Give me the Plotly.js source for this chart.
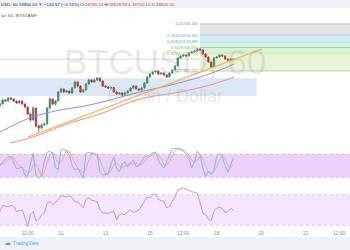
<!DOCTYPE html>
<html><head><meta charset="utf-8">
<script src="https://cdn.plot.ly/plotly-3.0.1.min.js"></script>
<style>html,body{margin:0;padding:0;background:#fff}#c{width:350px;height:250px}</style>
</head><body><div id="c"></div>
<script>
// ---- data (3-hour candles) ----
const candleStart = '2017-12-08T06:00:00';
const candleStepHours = 3;
const openP = [15150,15285,15598,15520,15755,15676,15520,15363,15520,15285,
 15050,14502,14033,14972,13563,13407,13641,13720,14972,15676,
 15285,15520,16224,16459,16224,16302,16146,16537,17007,16694,
 16224,16381,16850,17164,17007,17164,17320,17085,16694,16615,
 16537,16580,16224,16068,16146,15990,16146,16302,16537,16694,
 16459,16381,16537,16929,17398,17633,17789,17868,17633,17711,
 17555,17398,17711,17946,18259,18885,19042,19120,19042,19276,
 19355,19433,19590,19511,19198,18963,18572,18181,18885,18963,
 19120,19042,18807,18729,18786];
const closeP = [15285,15598,15520,15755,15676,15520,15363,15520,15285,15050,
 14502,14033,14972,13563,13407,13641,13720,14972,15676,15285,
 15520,16224,16459,16224,16302,16146,16537,17007,16694,16224,
 16381,16850,17164,17007,17164,17320,17085,16694,16615,16537,
 16580,16224,16068,16146,15990,16146,16302,16537,16694,16459,
 16381,16537,16929,17398,17633,17789,17868,17633,17711,17555,
 17398,17711,17946,18259,18885,19042,19120,19042,19276,19355,
 19433,19590,19511,19198,18963,18572,18181,18885,18963,19120,
 19042,18807,18729,18807,18800];
const highP = [15420,15700,15680,15840,15810,15720,15560,15610,15560,15330,
 15100,14600,15100,15000,13700,13760,13850,15050,15830,15720,
 15600,16300,16560,16500,16400,16350,16620,17100,17050,16740,
 16460,16930,17240,17250,17260,17400,17360,17120,16760,16680,
 16640,16620,16290,16230,16200,16220,16380,16610,16760,16730,
 16520,16600,17000,17470,17720,17870,17950,17900,17800,17760,
 17600,17780,18020,18340,18960,19120,19200,19180,19350,19430,
 19510,19700,19668,19560,19250,19010,18620,18950,19040,19200,
 19160,19080,18860,18880,18829];
const lowP = [15080,15240,15430,15480,15600,15450,15300,15320,15200,14950,
 14420,13900,13980,13450,13093,13330,13560,13690,14900,15200,
 15150,15480,16150,16150,16180,16080,16100,16500,16620,16150,
 16180,16330,16800,16950,16960,17100,17020,16620,16540,16460,
 16450,16150,15990,16000,15920,15940,16100,16260,16480,16400,
 16300,16330,16500,16880,17350,17580,17740,17560,17590,17480,
 17320,17360,17680,17900,18220,18830,18980,18960,19000,19220,
 19300,19380,19440,19120,18900,18500,18103,18140,18820,18920,
 18980,18740,18650,18690,18700];
const stochK = [52,60,66,74,75,60,42,44,47,26,
 21,55,83,25,18,24,62,85,88,83,
 45,40,91,94,88,78,50,39,44,30,
 18,83,85,83,80,78,34,26,28,31,
 55,73,44,34,55,60,47,58,65,48,
 50,62,73,75,78,84,86,65,52,44,
 60,78,94,96,96,92,88,80,70,45,
 60,88,80,45,22,36,28,40,75,82,
 73,50,34,52,72];
const stochD = [50,55,59,67,72,70,59,49,44,39,
 31,34,53,54,42,22,35,57,78,85,
 72,56,59,75,91,87,72,56,44,38,
 31,44,62,84,83,80,64,46,29,28,
 38,53,57,50,44,50,54,55,57,57,
 54,53,62,70,75,79,83,78,68,54,
 52,61,77,89,95,95,92,87,79,65,
 58,64,76,71,49,34,29,35,48,66,
 77,68,52,45,53];
const rsi = [48,56,55,54,56,55,48,49,50,41,
 28,44,48,36,38,43,46,59,61,57,
 60,63,69,68,67,69,66,61,60,57,
 53,64,66,63,62,61,50,46,46,46,
 47,48,37,44,45,44,48,50,47,48,
 50,55,61,67,66,70,71,64,62,61,
 53,55,61,67,76,78,79,77,75,74,
 73,72,60,46,44,38,36,48,52,54,
 52,47,48,52,50];
// moving averages (sampled points)
const maBlueT = ['2017-12-08 06:00','2017-12-09 14:30','2017-12-10 17:30','2017-12-12 01:50','2017-12-13 04:50','2017-12-14 13:00','2017-12-15 18:00','2017-12-17 06:00','2017-12-18 03:30','2017-12-18 19:00'];
const maBlueV = [13093,14189,14737,15128,15598,16224,16694,17398,17946,18416];
const maRedT = ['2017-12-08 17:00','2017-12-09 17:45','2017-12-11 06:30','2017-12-12 18:00','2017-12-14 13:00','2017-12-16 08:20','2017-12-17 16:45','2017-12-18 19:00'];
const maRedV = [12232,12702,13720,14502,15676,16224,16772,17398];
// trend line
const trendT = ['2017-12-09 12:20','2017-12-20 00:50'];
const trendV = [12702,19590];
// fibonacci retracement
const fibStart = '2017-12-17 06:00';
const fibRatios = ['1','0.764','0.618','0.5','0.382','0'];
const fibPrices = [21546.33,20676.66,20139.89,19706.05,19272.95,17867.72];
// resistance zone
const zoneStart = '2017-12-07 00:00', zoneEnd = '2017-12-19 19:00';
const zoneLow = 15911, zoneHigh = 17296;
const lastPrice = 18800;
const tickVals = ['2017-12-09 12:00','2017-12-11','2017-12-13','2017-12-15','2017-12-16 12:00','2017-12-18','2017-12-20','2017-12-22','2017-12-23 12:00'];
const tickText = ['12:00','11','13','15','12:00','18','20','22','12:00'];

// ---- build ----
const t0 = new Date(candleStart + 'Z').getTime();
const times = openP.map((_, i) => new Date(t0 + i * candleStepHours * 3600e3).toISOString().slice(0,16).replace('T',' '));
const xRange = ['2017-12-08 06:11','2017-12-23 23:46'];

const fibLine = ['#c4c4c4','#a9d3f0','#a6e0d2','#9ad89c','#cfe6a0','#c9d3b5'];
const fibFill = ['#e3e3e3','#d5eaf6','#d5f1ea','#dcf2d6','#e9f3d6'];
const fibText = ['#8c8c8c','#5aaae0','#3fb39a','#5dbb5d','#a7c54b','#8c8c8c'];

const data = [
 {type:'scatter',mode:'text',x:['2017-12-15 16:10'],y:[18337],text:['BTCUSD, 60'],
  textfont:{family:'Liberation Sans, Arial',size:35,color:'rgba(150,150,150,0.22)'},hoverinfo:'skip',xaxis:'x',yaxis:'y'},
 {type:'scatter',mode:'text',x:['2017-12-15 16:10'],y:[15833],text:['Bitcoin / Dollar'],
  textfont:{family:'Liberation Sans, Arial',size:18,color:'rgba(150,150,150,0.22)'},hoverinfo:'skip',xaxis:'x',yaxis:'y'},
 {type:'scatter',mode:'lines',x:maRedT,y:maRedV,line:{color:'#f28b8b',width:1,shape:'spline'},xaxis:'x',yaxis:'y'},
 {type:'scatter',mode:'lines',x:maBlueT,y:maBlueV,line:{color:'#8a8cf0',width:1,shape:'spline'},xaxis:'x',yaxis:'y'},
 {type:'scatter',mode:'lines',x:trendT,y:trendV,line:{color:'#f7b13c',width:1.3},xaxis:'x',yaxis:'y'},
 {type:'candlestick',x:times,open:openP,high:highP,low:lowP,close:closeP,xaxis:'x',yaxis:'y',
  increasing:{line:{color:'#3d8c5c',width:0.8},fillcolor:'#3d8c5c'},
  decreasing:{line:{color:'#a63b3b',width:0.8},fillcolor:'#a63b3b'},whiskerwidth:0},
 {type:'scatter',mode:'lines',x:times,y:stochD,line:{color:'#f4a765',width:0.9},xaxis:'x',yaxis:'y2'},
 {type:'scatter',mode:'lines',x:times,y:stochK,line:{color:'#6db3f2',width:0.9},xaxis:'x',yaxis:'y2'},
 {type:'scatter',mode:'lines',x:times,y:rsi,line:{color:'#c285d6',width:0.9},xaxis:'x',yaxis:'y3'}
];

const shapes = [
 {type:'rect',xref:'paper',yref:'paper',x0:0,x1:1,y0:0.968,y1:1,fillcolor:'#eef1f5',line:{width:0},layer:'below'},
 {type:'rect',xref:'paper',yref:'paper',x0:0,x1:1,y0:0,y1:0.052,fillcolor:'#eef1f5',line:{width:0},layer:'below'},
 {type:'rect',xref:'x',yref:'y',x0:zoneStart,x1:zoneEnd,y0:zoneLow,y1:zoneHigh,fillcolor:'#dbe7f5',line:{width:0},layer:'below'},
 {type:'rect',xref:'paper',yref:'y2',x0:0,x1:1,y0:20,y1:80,fillcolor:'#ebd2fb',line:{width:0},layer:'below'},
 {type:'line',xref:'paper',yref:'y2',x0:0,x1:1,y0:20,y1:20,line:{color:'#c7b2cd',width:0.8,dash:'dot'}},
 {type:'line',xref:'paper',yref:'y2',x0:0,x1:1,y0:80,y1:80,line:{color:'#c7b2cd',width:0.8,dash:'dot'}},
 {type:'rect',xref:'paper',yref:'y3',x0:0,x1:1,y0:30,y1:70,fillcolor:'#f4e6fd',line:{width:0},layer:'below'},
 {type:'line',xref:'paper',yref:'y3',x0:0,x1:1,y0:30,y1:30,line:{color:'#d2bcd8',width:0.8,dash:'dot'}},
 {type:'line',xref:'paper',yref:'y3',x0:0,x1:1,y0:70,y1:70,line:{color:'#d2bcd8',width:0.8,dash:'dot'}},
 {type:'line',xref:'paper',yref:'y',x0:0,x1:1,y0:lastPrice,y1:lastPrice,line:{color:'#bcd0d2',width:0.8},layer:'below'}
];
for (let i = 0; i < fibPrices.length - 1; i++) {
  shapes.push({type:'rect',xref:'x',yref:'y',x0:fibStart,x1:'2017-12-30',y0:fibPrices[i+1],y1:fibPrices[i],
    fillcolor:fibFill[i],line:{width:0},layer:'below'});
}
fibPrices.forEach((p, i) => shapes.push({type:'line',xref:'x',yref:'y',x0:fibStart,x1:'2017-12-30',y0:p,y1:p,
  line:{color:fibLine[i],width:1},layer:'below'}));

const annotations = fibPrices.map((p, i) => ({xref:'x',yref:'y',x:fibStart,y:p,xanchor:'right',yanchor:'middle',xshift:-1,
  text:fibRatios[i] + '(' + p.toFixed(2) + ')',showarrow:false,borderpad:0,
  font:{family:'Liberation Sans, Arial',size:4.2,color:fibText[i]}}));
annotations.push({xref:'paper',yref:'paper',x:0,y:0.984,xanchor:'left',yanchor:'middle',showarrow:false,borderpad:0,
  font:{family:'Liberation Sans, Arial',size:4.4,color:'#333'},
  text:'USD, 60 18800.00 <span style="color:#e03b3b">▼</span> −140.57 (−0.74%) O:<span style="color:#e03b3b">18786.14</span> H:<span style="color:#e03b3b">18828.59</span> L:<span style="color:#e03b3b">18700.10</span> C:<span style="color:#e03b3b">18800.00</span>'});
annotations.push({xref:'paper',yref:'paper',x:0,y:0.94,xanchor:'left',yanchor:'middle',showarrow:false,borderpad:0,
  font:{family:'Liberation Sans, Arial',size:4.4,color:'#555'},text:'lar, 60, BITSTAMP'});
annotations.push({xref:'paper',yref:'paper',x:0.005,y:0.028,xanchor:'left',yanchor:'middle',showarrow:false,
  font:{family:'DejaVu Sans',size:7,color:'#4aa3df'},text:'☁'});
annotations.push({xref:'paper',yref:'paper',x:0.031,y:0.028,xanchor:'left',yanchor:'middle',showarrow:false,
  font:{family:'Liberation Sans, Arial',size:4.6,color:'#4aa3df'},text:'TradingView'});

const layout = {
  width:350,height:250,margin:{l:0,r:0,t:0,b:0},showlegend:false,
  paper_bgcolor:'#ffffff',plot_bgcolor:'rgba(0,0,0,0)',
  xaxis:{type:'date',range:xRange,anchor:'y3',showgrid:false,zeroline:false,showline:false,
    tickvals:tickVals,ticktext:tickText,ticks:'',tickfont:{family:'Liberation Sans, Arial',size:4.8,color:'#8a8a8a'},
    rangeslider:{visible:false},fixedrange:true},
  yaxis:{domain:[0.416,0.92],range:[11997.47,21859.49],visible:false,fixedrange:true},
  yaxis2:{domain:[0.256,0.416],range:[-2.7,101.7],visible:false,fixedrange:true},
  yaxis3:{domain:[0.084,0.256],range:[25.2,81.4],visible:false,fixedrange:true},
  shapes:shapes,annotations:annotations
};
Plotly.newPlot('c', data, layout, {staticPlot:true,displayModeBar:false});
</script></body></html>
